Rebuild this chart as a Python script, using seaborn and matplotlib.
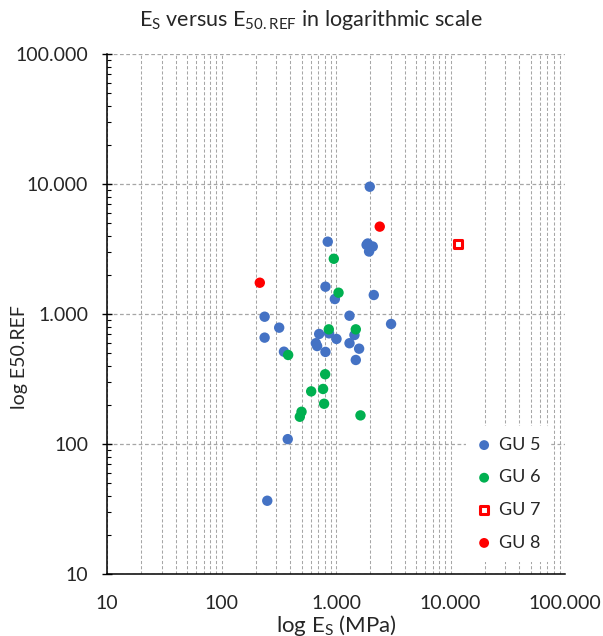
import numpy as np
import pandas as pd
import matplotlib
matplotlib.use("Agg")
import matplotlib.pyplot as plt
import seaborn as sns
from matplotlib.ticker import LogLocator, FuncFormatter, NullFormatter

# ---- data ----
gu5_es = [1972, 847, 1894, 2094, 1945, 1850, 809, 2138, 977, 238, 1312, 3027, 319, 713,
          870, 238, 1010, 1449, 1312, 667, 684, 1592, 809, 351, 1489, 379, 251]
gu5_e50 = [9530, 3600, 3486, 3305, 3025, 3400, 1622, 1400, 1304, 953, 970, 838, 785, 702,
           710, 658, 643, 689, 596, 596, 567, 541, 511, 513, 443, 109, 36.6]
gu6_es = [957, 1052, 865, 1489, 382, 804, 607, 771, 787, 500, 483, 1636]
gu6_e50 = [2660, 1458, 762, 762, 484, 344, 254, 265, 204, 177, 162, 166]
gu7_es = [11650]
gu7_e50 = [3437]
gu8_es = [216, 2410]
gu8_e50 = [1740, 4700]

groups = ["GU 5", "GU 6", "GU 7", "GU 8"]
colors = {"GU 5": "#4472C4", "GU 6": "#00B050", "GU 7": "#FF0000", "GU 8": "#FF0000"}

df = pd.concat([
    pd.DataFrame({"Es": gu5_es, "E50": gu5_e50, "group": "GU 5"}),
    pd.DataFrame({"Es": gu6_es, "E50": gu6_e50, "group": "GU 6"}),
    pd.DataFrame({"Es": gu7_es, "E50": gu7_e50, "group": "GU 7"}),
    pd.DataFrame({"Es": gu8_es, "E50": gu8_e50, "group": "GU 8"}),
], ignore_index=True)

sns.set_theme(style="white")
plt.rcParams["font.family"] = ["Lato", "DejaVu Sans"]
plt.rcParams["mathtext.fontset"] = "custom"
plt.rcParams["mathtext.rm"] = "Lato"

fig = plt.figure(figsize=(6.03, 6.36), dpi=100)
ax = fig.add_axes([107 / 603, 1 - 574 / 636, 458 / 603, 520 / 636])

for g in groups:
    sub = df[df["group"] == g]
    if g == "GU 7":
        sns.scatterplot(data=sub, x="Es", y="E50", ax=ax, marker="s", s=38,
                        facecolor="white", edgecolor=colors[g], linewidth=2.2,
                        label=g, zorder=3)
    else:
        sns.scatterplot(data=sub, x="Es", y="E50", ax=ax, marker="o", s=56,
                        color=colors[g], edgecolor="none", linewidth=0,
                        label=g, zorder=3)

ax.set_xscale("log")
ax.set_yscale("log")
ax.set_xlim(10, 100000)
ax.set_ylim(10, 100000)

fmt = FuncFormatter(lambda v, p: f"{int(round(v)):,}".replace(",", "."))
ax.xaxis.set_major_locator(LogLocator(base=10, numticks=10))
ax.xaxis.set_minor_locator(LogLocator(base=10, subs=np.arange(2, 10), numticks=20))
ax.yaxis.set_major_locator(LogLocator(base=10, numticks=10))
ax.yaxis.set_minor_locator(LogLocator(base=10, subs=np.arange(2, 10), numticks=20))
ax.xaxis.set_major_formatter(fmt)
ax.yaxis.set_major_formatter(fmt)
ax.xaxis.set_minor_formatter(NullFormatter())
ax.yaxis.set_minor_formatter(NullFormatter())

ax.grid(False)
ax.grid(True, axis="x", which="both", color="#A6A6A6", linestyle=(0, (3, 2)), linewidth=0.75, zorder=0)
ax.grid(True, axis="y", which="major", color="#A6A6A6", linestyle=(0, (3, 2)), linewidth=0.9, zorder=0)
ax.set_axisbelow(True)

ax.tick_params(axis="x", which="both", length=0, pad=15, labelsize=14, labelcolor="#262626")
ax.tick_params(axis="y", which="major", direction="inout", length=7, width=1.0,
               color="black", pad=10, labelsize=14, labelcolor="#262626", left=True)
ax.tick_params(axis="y", which="minor", direction="in", length=3, width=0.8, color="black", left=True)

for s in ["top", "right"]:
    ax.spines[s].set_visible(False)
for s in ["left", "bottom"]:
    ax.spines[s].set_color("black")
    ax.spines[s].set_linewidth(1.1)

ax.set_xlabel("")
ax.set_ylabel("")

leg = ax.legend(loc="upper left", bbox_to_anchor=(0.784, 0.2846), borderaxespad=0,
                frameon=True, facecolor="white", edgecolor="none", framealpha=1,
                fontsize=13, markerscale=0.95, handlelength=0.8, handletextpad=0.4,
                labelspacing=0.92, borderpad=0.6)
for t in leg.get_texts():
    t.set_color("#262626")

fig.text(311 / 603, 1 - 20 / 636,
         r"E$_\mathregular{S}$ versus E$_\mathregular{50.REF}$ in logarithmic scale",
         ha="center", va="center", fontsize=15.5, color="#262626")
fig.text(336 / 603, 1 - 625 / 636, r"log E$_\mathregular{S}$ (MPa)",
         ha="center", va="center", fontsize=16, color="#262626")
fig.text(20 / 603, 1 - 357 / 636, "log E50.REF", rotation=90,
         ha="center", va="center", fontsize=14, color="#262626")

fig.savefig("out.png", dpi=100, facecolor="white")
